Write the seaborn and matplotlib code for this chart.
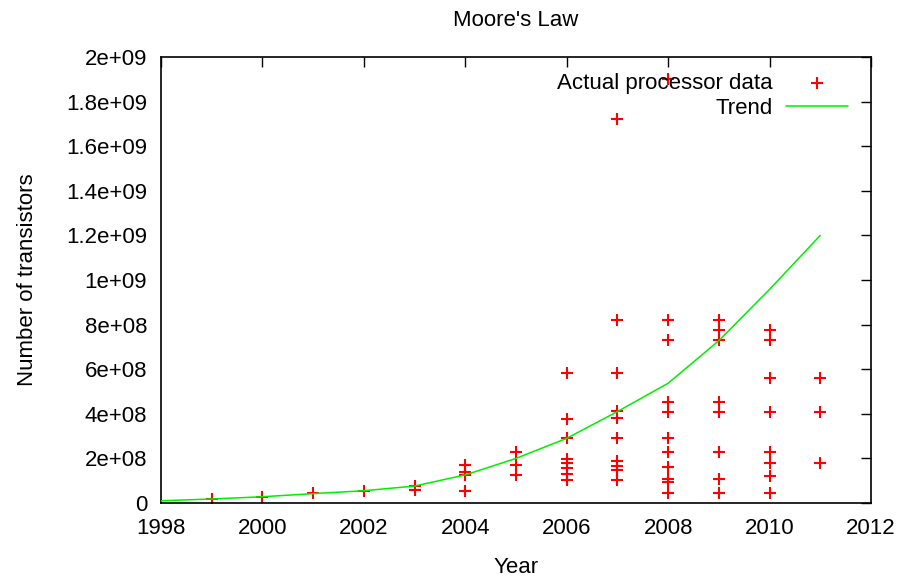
import matplotlib
matplotlib.use("Agg")
import matplotlib.pyplot as plt
import seaborn as sns
import pandas as pd

# Processor transistor counts by year of introduction
proc_years = (
    [1999, 2000, 2001, 2002, 2003, 2003]
    + [2004] * 4
    + [2005] * 3
    + [2006] * 8
    + [2007] * 10
    + [2008] * 11
    + [2009] * 8
    + [2010] * 8
    + [2011] * 3
)
proc_transistors = [
    0.018e9, 0.028e9, 0.043e9, 0.055e9, 0.076e9, 0.058e9,
    0.170e9, 0.140e9, 0.126e9, 0.054e9,
    0.230e9, 0.170e9, 0.126e9,
    0.584e9, 0.377e9, 0.290e9, 0.196e9, 0.178e9, 0.158e9, 0.130e9, 0.103e9,
    1.720e9, 0.820e9, 0.582e9, 0.414e9, 0.380e9, 0.290e9, 0.190e9, 0.168e9, 0.150e9, 0.104e9,
    1.900e9, 0.820e9, 0.731e9, 0.454e9, 0.410e9, 0.290e9, 0.230e9, 0.163e9, 0.106e9, 0.095e9, 0.046e9,
    0.820e9, 0.776e9, 0.731e9, 0.454e9, 0.410e9, 0.230e9, 0.106e9, 0.046e9,
    0.776e9, 0.731e9, 0.559e9, 0.410e9, 0.230e9, 0.178e9, 0.121e9, 0.046e9,
    0.559e9, 0.410e9, 0.178e9,
]

# Trend curve sampled yearly
trend_years = [1998, 1999, 2000, 2001, 2002, 2003, 2004, 2005, 2006, 2007, 2008, 2009, 2010, 2011]
trend_values = [0.010e9, 0.018e9, 0.028e9, 0.042e9, 0.055e9, 0.076e9, 0.126e9,
                0.200e9, 0.290e9, 0.410e9, 0.537e9, 0.728e9, 0.958e9, 1.200e9]

x_ticks = [1998, 2000, 2002, 2004, 2006, 2008, 2010, 2012]
y_ticks = [0, 2e8, 4e8, 6e8, 8e8, 1e9, 1.2e9, 1.4e9, 1.6e9, 1.8e9, 2e9]
y_tick_labels = ["0", "2e+08", "4e+08", "6e+08", "8e+08", "1e+09",
                 "1.2e+09", "1.4e+09", "1.6e+09", "1.8e+09", "2e+09"]

sns.set_style("white")
plt.rcParams["font.family"] = ["Liberation Sans", "DejaVu Sans"]
plt.rcParams["font.size"] = 16
plt.rcParams["text.color"] = "black"
plt.rcParams["axes.labelcolor"] = "black"
plt.rcParams["xtick.color"] = "black"
plt.rcParams["ytick.color"] = "black"

proc_df = pd.DataFrame({"year": proc_years, "transistors": proc_transistors})
trend_df = pd.DataFrame({"year": trend_years, "transistors": trend_values})

fig = plt.figure(figsize=(9.02, 5.81), dpi=100)
ax = fig.add_axes([161 / 902, 1 - 503 / 581, 710 / 902, 446 / 581])

sns.scatterplot(data=proc_df, x="year", y="transistors", marker="+", color="#ff0000",
                s=80, linewidth=1.5, ax=ax, label="Actual processor data", zorder=2)
sns.lineplot(data=trend_df, x="year", y="transistors", color="#00ee00", linewidth=1.1,
             ax=ax, label="Trend", zorder=3)

ax.set_xlim(1998, 2012)
ax.set_ylim(0, 2e9)
ax.set_xticks(x_ticks)
ax.set_xticklabels([str(t) for t in x_ticks])
ax.set_yticks(y_ticks)
ax.set_yticklabels(y_tick_labels)
ax.tick_params(direction="in", length=7, width=1, top=True, right=True,
               labelsize=16, color="black")
ax.tick_params(axis="x", pad=11)
ax.tick_params(axis="y", pad=10)
for sp in ax.spines.values():
    sp.set_color("black")
    sp.set_linewidth(1.2)

ax.set_xlabel("Year", fontsize=16, labelpad=13)
ax.set_ylabel("Number of transistors", fontsize=16, labelpad=20)
ax.set_title("Moore's Law", fontsize=16, pad=22)

leg = ax.legend(loc="upper right", markerfirst=False, frameon=False, fontsize=16,
                handlelength=2.8, handletextpad=0.6, labelspacing=0.2,
                borderaxespad=0.3, bbox_to_anchor=(0.99, 1.0))

fig.savefig("out.png", dpi=100)
